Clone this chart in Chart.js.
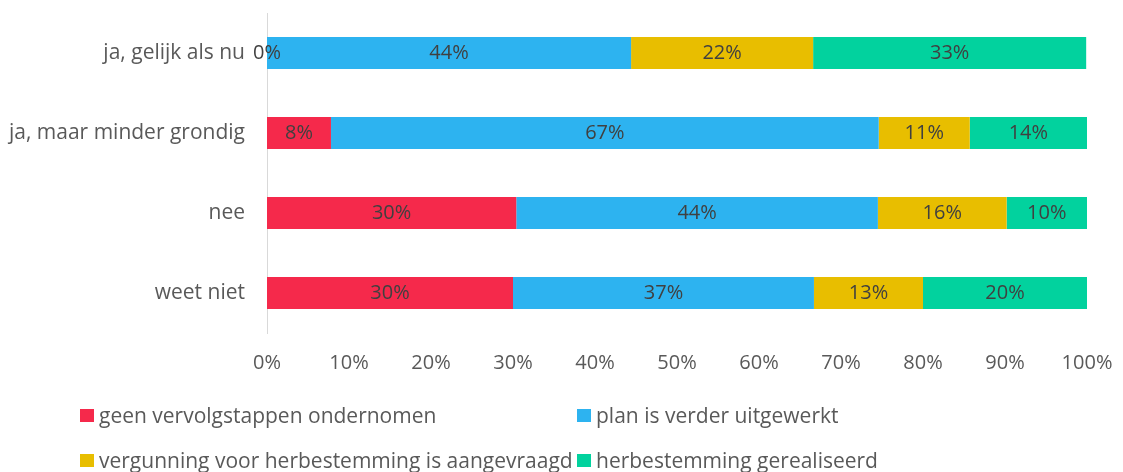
<!DOCTYPE html>
<html>
<head>
<meta charset="utf-8">
<script src="https://cdn.jsdelivr.net/npm/chart.js@4"></script>
<style>
  body { margin: 0; background: #fff; font-family: "Open Sans", sans-serif; }
  #wrap { position: relative; width: 1123px; height: 472px; }
  #chart-box { position: absolute; left: 0; top: 0; width: 1123px; height: 385px; }
  #legend { position: absolute; left: 0; top: 0; width: 1123px; height: 472px; color: #595959; font-size: 21px; }
  .item { position: absolute; display: flex; align-items: center; white-space: nowrap; height: 26px; line-height: 26px; }
  .sw { width: 14px; height: 13px; margin-right: 5px; flex-shrink: 0; }
</style>
</head>
<body>
<div id="wrap">
  <div id="chart-box"><canvas id="c"></canvas></div>
  <div id="legend"></div>
</div>
<script>
// categorieën en reeksen
const categories = ['ja, gelijk als nu', 'ja, maar minder grondig', 'nee', 'weet niet'];
const seriesNames = ['geen vervolgstappen ondernomen', 'plan is verder uitgewerkt',
  'vergunning voor herbestemming is aangevraagd', 'herbestemming gerealiseerd'];
const geenVervolg = [0, 7.8, 30.4, 30.0];
const planUitgewerkt = [44.4, 66.8, 44.1, 36.7];
const vergunning = [22.2, 11.1, 15.7, 13.3];
const gerealiseerd = [33.3, 14.3, 9.8, 20.0];
const xTicks = [0, 10, 20, 30, 40, 50, 60, 70, 80, 90, 100];
const colors = ['#F5294B', '#2DB3F0', '#E8BE00', '#02D29E'];

const values = [geenVervolg, planUitgewerkt, vergunning, gerealiseerd];
const FONT = '"Open Sans", sans-serif';

// labels in de balken
const barLabels = {
  id: 'barLabels',
  afterDatasetsDraw(chart) {
    const ctx = chart.ctx;
    ctx.save();
    ctx.font = '20px ' + FONT;
    ctx.fillStyle = '#404040';
    ctx.textAlign = 'center';
    ctx.textBaseline = 'middle';
    chart.data.datasets.forEach((ds, i) => {
      chart.getDatasetMeta(i).data.forEach((bar, j) => {
        const cx = (bar.x + bar.base) / 2;
        ctx.fillText(Math.round(ds.data[j]) + '%', cx, bar.y);
      });
    });
    ctx.restore();
  }
};

new Chart(document.getElementById('c'), {
  type: 'bar',
  data: {
    labels: categories,
    datasets: seriesNames.map((name, i) => ({
      label: name,
      data: values[i],
      backgroundColor: colors[i],
      categoryPercentage: 1,
      barPercentage: 0.4
    }))
  },
  options: {
    indexAxis: 'y',
    responsive: true,
    maintainAspectRatio: false,
    animation: false,
    layout: { padding: { top: 13, right: 36, left: 0, bottom: 0 } },
    plugins: { legend: { display: false }, tooltip: { enabled: false } },
    scales: {
      x: {
        stacked: true,
        min: 0,
        max: 100,
        afterBuildTicks: s => { s.ticks = xTicks.map(v => ({ value: v })); },
        afterFit: s => { s.height = 52; s.paddingRight = 0; s.paddingLeft = 0; },
        grid: { display: false },
        border: { display: false },
        ticks: {
          color: '#595959',
          padding: 10,
          font: { family: FONT, size: 20 },
          callback: v => v + '%'
        }
      },
      y: {
        stacked: true,
        afterFit: s => { s.width = 267; s.paddingTop = 0; s.paddingBottom = 0; },
        grid: { display: false },
        border: { display: true, color: '#d9d9d9', width: 1 },
        ticks: {
          color: '#595959',
          padding: 14,
          font: { family: FONT, size: 21 }
        }
      }
    }
  },
  plugins: [barLabels]
});

// legenda in twee kolommen
const legendPos = [[80, 402], [577, 402], [80, 447], [577, 447]];
const legend = document.getElementById('legend');
seriesNames.forEach((name, i) => {
  const item = document.createElement('div');
  item.className = 'item';
  item.style.left = legendPos[i][0] + 'px';
  item.style.top = legendPos[i][1] + 'px';
  item.innerHTML = `<span class="sw" style="background:${colors[i]}"></span>${name}`;
  legend.appendChild(item);
});
</script>
</body>
</html>
